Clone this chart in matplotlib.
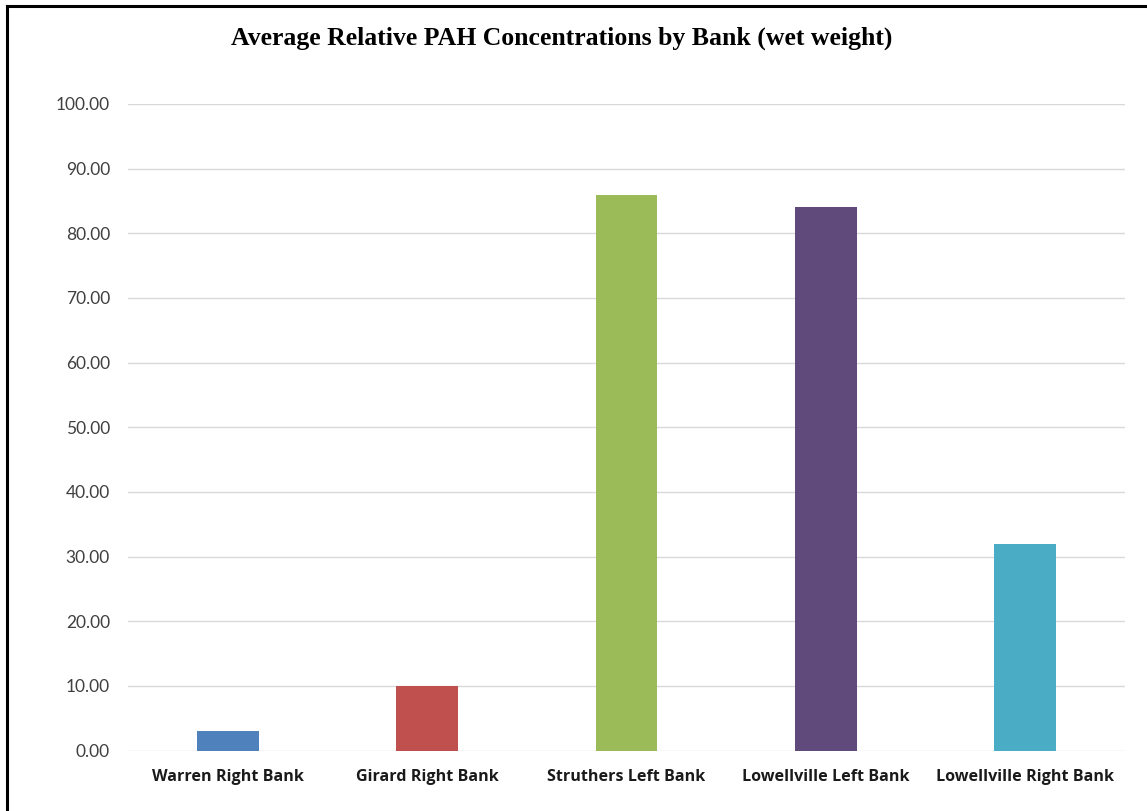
import matplotlib
matplotlib.use("Agg")
import matplotlib.pyplot as plt
from matplotlib.lines import Line2D
import numpy as np

banks = ["Warren Right Bank", "Girard Right Bank", "Struthers Left Bank",
         "Lowellville Left Bank", "Lowellville Right Bank"]
values = [3.0, 10.0, 86.0, 84.0, 32.0]
colors = ["#4F81BD", "#C0504D", "#9BBB59", "#604A7B", "#4BACC6"]
yticks = np.arange(0, 101, 10)

fig = plt.figure(figsize=(11.47, 8.11), dpi=100)
ax = fig.add_axes([128 / 1147, 1 - 750.5 / 811, 997 / 1147, 646.5 / 811])

x = np.arange(len(banks))
ax.bar(x, values, width=0.31, color=colors, zorder=3)

ax.set_xlim(-0.5, len(banks) - 0.5)
ax.set_ylim(0, 100)
ax.set_yticks(yticks)
ax.set_yticklabels(["%.2f" % v for v in yticks], fontsize=12.5,
                   family=["Lato", "DejaVu Sans"], color="#404040")
ax.set_xticks(x)
ax.set_xticklabels(banks, fontsize=11.6, fontweight="bold",
                   family=["Open Sans", "DejaVu Sans"], color="#1a1a1a")
ax.tick_params(axis="both", length=0)
ax.tick_params(axis="y", pad=13)
ax.tick_params(axis="x", pad=13)
ax.grid(axis="y", color="#d9d9d9", linewidth=1.0, zorder=0)
for s in ax.spines.values():
    s.set_visible(False)

fig.text(562 / 1147, 1 - 38 / 811,
         "Average Relative PAH Concentrations by Bank (wet weight)",
         ha="center", va="center", fontsize=18.5, fontweight="bold",
         family=["Liberation Serif", "DejaVu Serif"])

# frame edges visible in the reference (left and top)
fig.add_artist(Line2D([7 / 1147, 7 / 1147], [0, 1 - 6 / 811],
                      transform=fig.transFigure, color="black", linewidth=2.2))
fig.add_artist(Line2D([7 / 1147, 1], [1 - 6 / 811, 1 - 6 / 811],
                      transform=fig.transFigure, color="black", linewidth=2.2))

fig.savefig("out.png", dpi=100)
